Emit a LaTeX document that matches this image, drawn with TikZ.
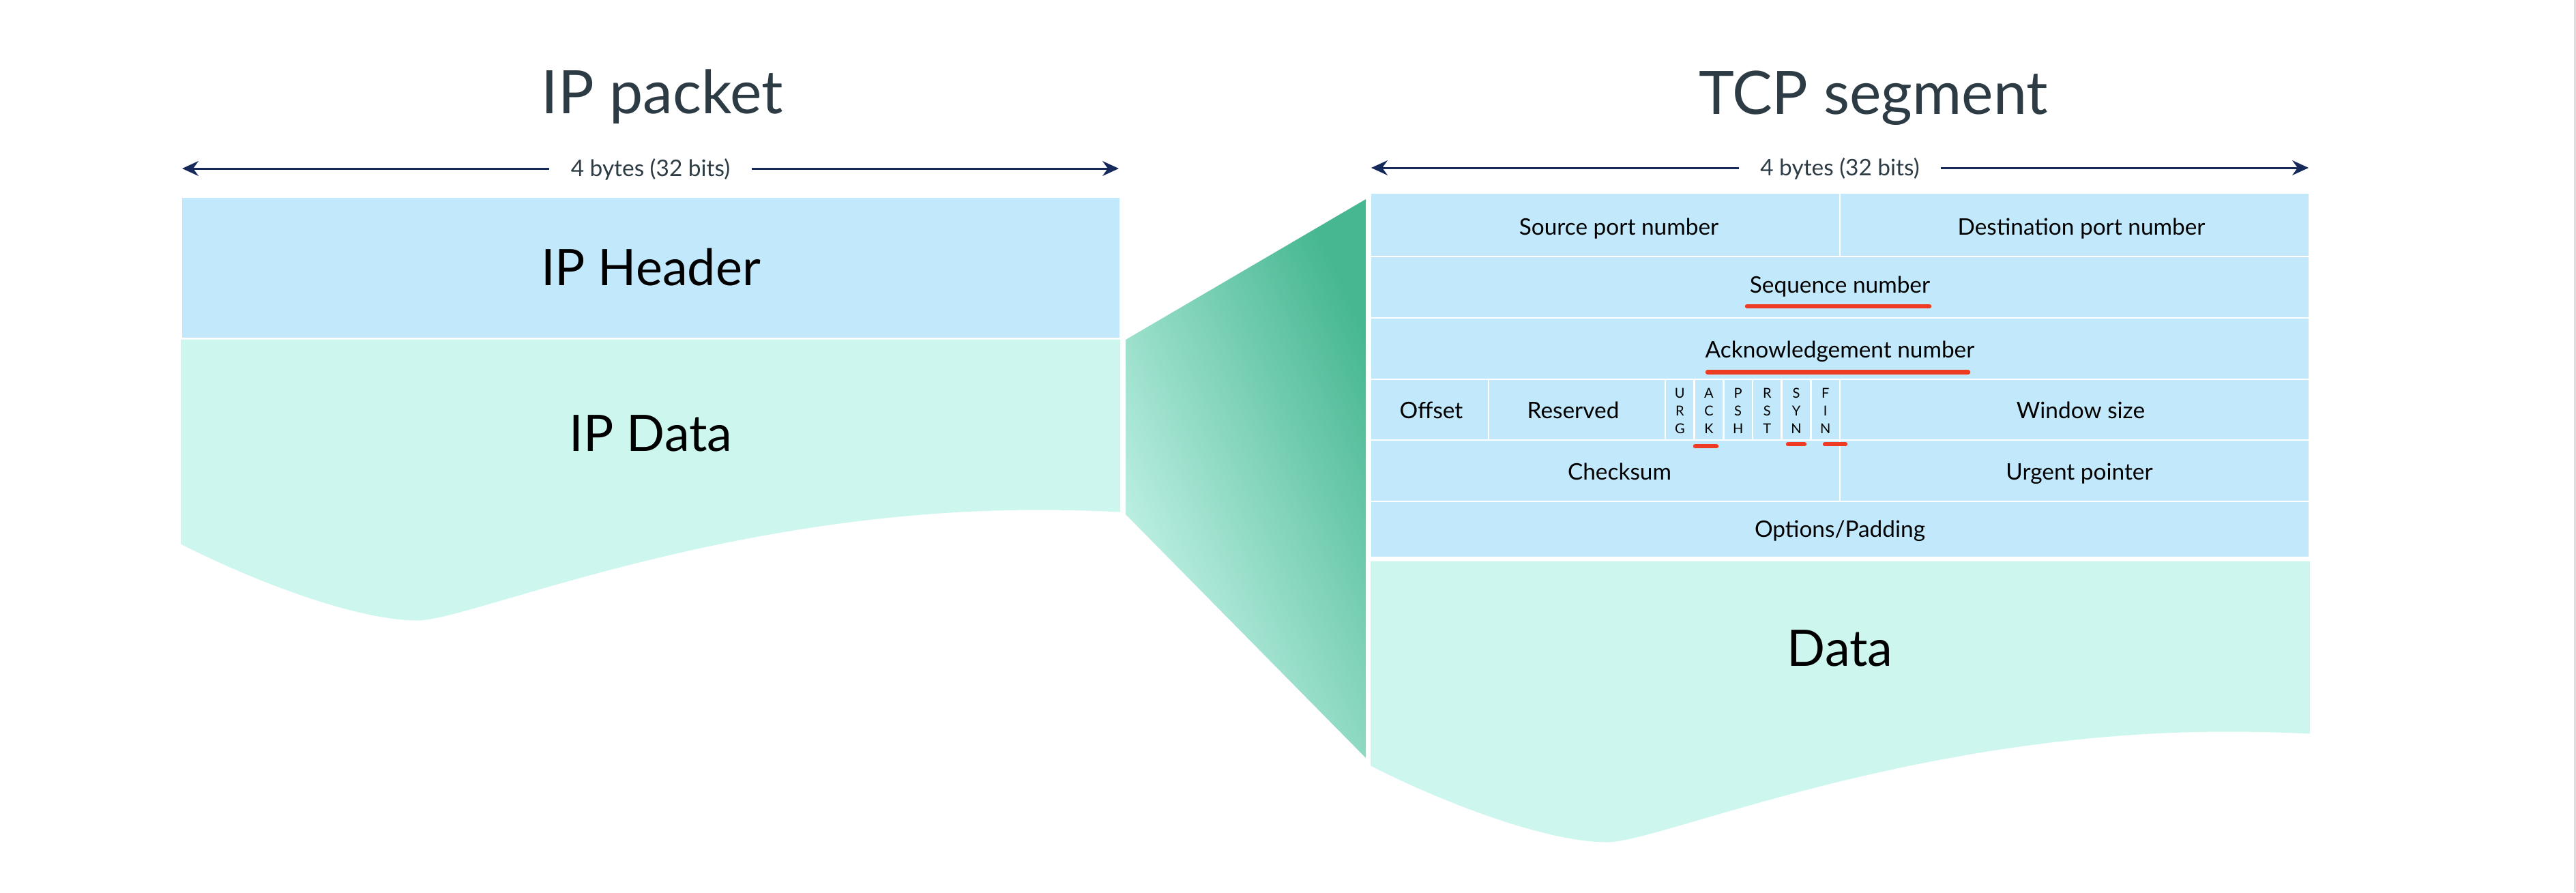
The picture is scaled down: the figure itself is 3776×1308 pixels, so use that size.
\documentclass[tikz,border=0pt]{standalone}
\usepackage{fontspec}
\setmainfont{Lato}
\usetikzlibrary{arrows.meta,positioning,calc}

\definecolor{hdrblue}{HTML}{C2E9FB}
\definecolor{datamint}{HTML}{CDF7EE}
\definecolor{funnelgreen}{HTML}{46B791}
\definecolor{titlegrey}{HTML}{2D3C44}
\definecolor{dimnavy}{HTML}{16295B}
\definecolor{markred}{HTML}{EF3B24}

\tikzset{
  cell/.style={fill=hdrblue, draw=white, line width=0.8pt},
  title/.style={font=\fontsize{25}{30}\selectfont, text=titlegrey, inner sep=0pt, text height=17.9pt, text depth=0pt},
  biglbl/.style={font=\fontsize{21}{25}\selectfont, inner sep=0pt, text height=15.05pt, text depth=0pt},
  lbl/.style={font=\fontsize{9.5}{11}\selectfont, inner sep=0pt, text height=6.8pt, text depth=0pt},
  flaglbl/.style={font=\fontsize{5.7}{7}\selectfont, inner sep=0pt, text height=4.1pt, text depth=0pt},
  widthlbl/.style={lbl, text=titlegrey, fill=white, inner xsep=9pt, inner ysep=2pt},
  dimline/.style={<->, draw=dimnavy, line width=0.85pt},
  redmark/.style={draw=markred, line width=1.85pt, line cap=round},
}

\begin{document}
\begin{tikzpicture}[x=0.1mm, y=-0.1mm, >={Stealth[length=6.8pt,width=6.2pt,inset=2.2pt]}]
  \useasboundingbox (0,0) rectangle (3776,1308);
  \fill[black!13] (3773,0) rectangle (3776,1308);

  % titles
  \node[title] (iptitle) at (971,135) {IP packet};
  \node[title] (tcptitle) at (2746,136) {TCP segment};

  % width arrows
  \coordinate (ipL) at (267,247);
  \coordinate (ipR) at (1640,247);
  \coordinate (tcpL) at (2010,246);
  \coordinate (tcpR) at (3384,246);
  \draw[dimline] (ipL) -- (ipR) node[midway, widthlbl] (ipwidth) {4 bytes (32 bits)};
  \draw[dimline] (tcpL) -- (tcpR) node[midway, widthlbl] (tcpwidth) {4 bytes (32 bits)};

  % data bodies with wavy bottom
  \foreach \bx/\by in {265/497.5, 2009/822.5}
    \fill[datamint, shift={(\bx,\by)}] (0,0) -- (1377,0) -- (1377,253)
      .. controls (1355,252) and (1315,250) .. (1256,250)
      .. controls (790,250) and (425,412) .. (347,412)
      .. controls (255,412) and (100,351) .. (0,300) -- cycle;

  % IP packet
  \draw[cell] (266,289) rectangle (1642,496);
  \node[biglbl] (iphdr) at (954,392) {IP Header};
  \node[biglbl] (ipdata) at (954,635) {IP Data};

  % funnel
  \shade[top color=funnelgreen, middle color=funnelgreen!45!datamint, bottom color=datamint, shading angle=-65]
    (1650,498) -- (2002,292) -- (2002,1111) -- (1650,754) -- cycle;

  % TCP header rows
  \foreach \ya/\yb in {283/376, 645/735} {
    \draw[cell] (2009,\ya) rectangle (2697,\yb);
    \draw[cell] (2697,\ya) rectangle (3385,\yb);
  }
  \foreach \ya/\yb in {376/466, 466/556, 735/817}
    \draw[cell] (2009,\ya) rectangle (3385,\yb);
  \draw[cell] (2009,556) rectangle (2182,645);
  \draw[cell] (2182,556) rectangle (2441,645);
  \draw[cell] (2697,556) rectangle (3385,645);
  \foreach \a/\b/\c [count=\i from 0] in {U/R/G, A/C/K, P/S/H, R/S/T, S/Y/N, F/I/N} {
    \draw[cell] (2441+42.67*\i,556) rectangle (2483.67+42.67*\i,645);
    \node[flaglbl] (flag\i a) at (2462.3+42.67*\i,576) {\a};
    \node[flaglbl] (flag\i b) at (2462.3+42.67*\i,602) {\b};
    \node[flaglbl] (flag\i c) at (2462.3+42.67*\i,628) {\c};
  }

  % TCP labels
  \node[lbl] (srcport) at (2373,333) {Source port number};
  \node[lbl] (dstport) at (3051,333) {Destination port number};
  \node[lbl] (seqnum) at (2697,418) {Sequence number};
  \node[lbl] (acknum) at (2697,513) {Acknowledgement number};
  \node[lbl] (offset) at (2098,601.5) {Offset};
  \node[lbl] (reserved) at (2306,601.5) {Reserved};
  \node[lbl] (window) at (3050,601.5) {Window size};
  \node[lbl] (checksum) at (2374,691.5) {Checksum};
  \node[lbl] (urgent) at (3048,691.5) {Urgent pointer};
  \node[lbl] (options) at (2697,775.5) {Options/Padding};
  \node[biglbl] (tcpdata) at (2697,950) {Data};

  % red marks
  \draw[redmark] (2561,449) -- (2828,449);
  \draw[redmark] (2503,545.5) -- (2885,545.5);
  \draw[redmark] (2485,654) -- (2516,654);
  \draw[redmark] (2621,651) -- (2645,651);
  \draw[redmark] (2675,651) -- (2705,651);
\end{tikzpicture}
\end{document}
